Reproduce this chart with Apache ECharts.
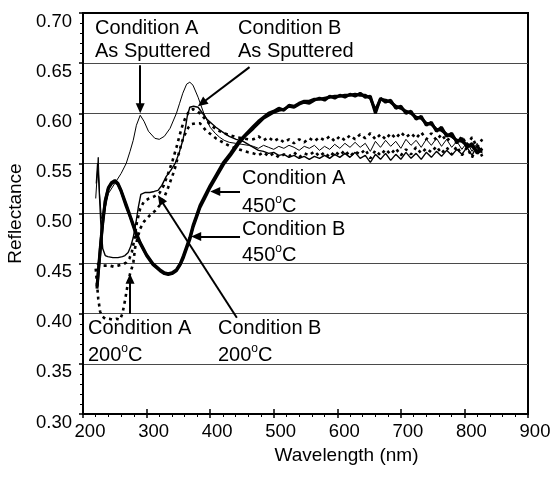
<!DOCTYPE html>
<html><head><meta charset="utf-8">
<script src="https://cdn.jsdelivr.net/npm/echarts@6/dist/echarts.min.js"></script>
<style>html,body{margin:0;padding:0;background:#fff}#c{width:556px;height:477px}</style>
</head><body><div id="c"></div>
<script>
// ---------- DATA ----------
const xTicks = [200, 300, 400, 500, 600, 700, 800, 900];
const yTicks = [0.30, 0.35, 0.40, 0.45, 0.50, 0.55, 0.60, 0.65, 0.70];

// shared wavelength grid for the noisy long-wavelength part (nm)
const flatWl = [468,476,484,492,500,508,516,524,532,540,548,556,564,572,580,588,596,604,612,620,628,636,644,652,660,668,676,684,692,700,708,716,724,732,740,748,756,764,772,780,788,796,804,812,820,828];

// Condition B 450 C (thick)
const b450HeadWl = [222,224,226,228,231,235,240,245,250,255,260,268,274,283,290,300,310,321,328,334,340,347,353,358,363,368,373,378,384,392,400,410,421,432,444,456];
const b450HeadR  = [0.425,0.44,0.455,0.47,0.49,0.512,0.525,0.53,0.532,0.529,0.522,0.507,0.497,0.48,0.47,0.458,0.449,0.443,0.44,0.439,0.44,0.443,0.449,0.456,0.465,0.474,0.486,0.495,0.506,0.516,0.526,0.537,0.549,0.558,0.569,0.578];
const b450FlatR  = [0.585,0.59,0.595,0.598,0.601,0.603,0.604,0.607,0.606,0.609,0.611,0.61,0.613,0.615,0.613,0.617,0.615,0.618,0.616,0.619,0.617,0.62,0.616,0.617,0.6,0.615,0.611,0.613,0.605,0.607,0.6,0.602,0.594,0.597,0.588,0.591,0.582,0.586,0.577,0.58,0.571,0.575,0.566,0.57,0.56,0.565];

// Condition A 450 C (thick, overlapping)
const a450HeadWl = [222,224,226,228,231,235,240,245,250,255,260,268,274,283,290,300,310,321,328,334,340,347,353,358,363,368,373,378,384,392,400,410,421,432,444,456];
const a450HeadR  = [0.427,0.442,0.457,0.472,0.492,0.513,0.526,0.531,0.533,0.53,0.523,0.509,0.498,0.482,0.471,0.459,0.45,0.444,0.441,0.44,0.441,0.444,0.45,0.458,0.467,0.476,0.488,0.497,0.508,0.518,0.528,0.539,0.551,0.56,0.571,0.579];
const a450FlatR  = [0.587,0.592,0.596,0.6,0.602,0.605,0.603,0.608,0.607,0.61,0.612,0.612,0.614,0.614,0.615,0.616,0.617,0.617,0.618,0.618,0.619,0.618,0.618,0.615,0.603,0.614,0.613,0.611,0.607,0.605,0.602,0.6,0.596,0.595,0.59,0.589,0.584,0.583,0.579,0.577,0.573,0.572,0.568,0.567,0.562,0.562];

// Condition A As Sputtered (thin)
const aSputHeadWl = [220,222,224,226,229,233,240,250,260,268,274,279,284,290,296,303,313,320,328,337,347,352,357,363,368,373,381,390,400,408,415,422,430,440,450,460];
const aSputHeadR  = [0.515,0.535,0.556,0.52,0.495,0.5,0.52,0.53,0.54,0.55,0.562,0.573,0.588,0.598,0.592,0.582,0.575,0.574,0.577,0.585,0.60,0.61,0.62,0.629,0.631,0.628,0.616,0.60,0.586,0.58,0.576,0.573,0.571,0.57,0.569,0.568];
const aSputFlatR  = [0.567,0.565,0.568,0.566,0.564,0.567,0.565,0.568,0.566,0.563,0.567,0.565,0.568,0.563,0.567,0.564,0.569,0.565,0.57,0.566,0.571,0.566,0.57,0.562,0.572,0.566,0.573,0.567,0.572,0.565,0.574,0.568,0.573,0.566,0.574,0.568,0.575,0.567,0.574,0.566,0.572,0.564,0.571,0.562,0.57,0.56];

// Condition B As Sputtered (solid)
const bSputHeadWl = [221,223,225,228,231,235,239,247,255,262,266,271,275,279,283,287,291,298,305,312,318,324,331,338,345,351,357,361,364,368,374,381,388,395,402,409,418,430,441,452,460];
const bSputHeadR  = [0.53,0.55,0.53,0.49,0.465,0.458,0.457,0.456,0.456,0.457,0.458,0.461,0.467,0.476,0.49,0.506,0.519,0.521,0.521,0.522,0.523,0.528,0.537,0.543,0.55,0.56,0.573,0.585,0.597,0.606,0.607,0.606,0.6,0.594,0.59,0.586,0.582,0.577,0.574,0.572,0.569];
const bSputFlatR  = [0.566,0.563,0.562,0.56,0.561,0.558,0.559,0.556,0.558,0.555,0.557,0.554,0.557,0.555,0.558,0.555,0.559,0.556,0.56,0.556,0.561,0.555,0.558,0.551,0.559,0.554,0.56,0.553,0.559,0.554,0.561,0.555,0.56,0.554,0.561,0.556,0.562,0.557,0.563,0.558,0.564,0.559,0.566,0.558,0.568,0.562];

// Condition A 200 C (dotted)
const a200HeadWl = [220,222,224,227,231,235,241,247,253,258,262,266,270,274,279,282,286,290,296,305,314,323,329,334,338,342,346,349,352,355,358,362,366,370,377,384,393,401,409,420,431,440,450,460];
const a200HeadR  = [0.445,0.43,0.415,0.402,0.397,0.395,0.395,0.394,0.395,0.394,0.4,0.413,0.428,0.44,0.45,0.466,0.476,0.485,0.492,0.498,0.503,0.51,0.518,0.526,0.533,0.54,0.548,0.556,0.563,0.57,0.576,0.581,0.586,0.589,0.59,0.59,0.583,0.579,0.575,0.571,0.567,0.565,0.563,0.561];
const a200FlatR  = [0.56,0.558,0.561,0.557,0.56,0.556,0.559,0.557,0.561,0.556,0.56,0.558,0.562,0.557,0.561,0.556,0.562,0.558,0.563,0.557,0.562,0.559,0.564,0.555,0.563,0.558,0.564,0.559,0.565,0.558,0.564,0.559,0.566,0.56,0.565,0.561,0.567,0.56,0.566,0.559,0.567,0.558,0.566,0.556,0.567,0.557];

// Condition B 200 C (dotted)
const b200HeadWl = [222,226,231,236,242,248,255,262,268,273,277,281,285,290,296,304,312,320,327,334,341,347,352,357,362,367,373,380,387,395,403,412,422,432,442,452,460];
const b200HeadR  = [0.45,0.449,0.448,0.448,0.448,0.447,0.448,0.449,0.451,0.455,0.462,0.475,0.492,0.505,0.512,0.515,0.517,0.52,0.528,0.54,0.553,0.566,0.578,0.589,0.597,0.602,0.604,0.602,0.598,0.592,0.587,0.583,0.58,0.578,0.576,0.575,0.574];
const b200FlatR  = [0.574,0.577,0.573,0.576,0.572,0.575,0.571,0.574,0.57,0.574,0.571,0.575,0.572,0.576,0.573,0.577,0.572,0.577,0.573,0.578,0.574,0.579,0.575,0.58,0.574,0.579,0.574,0.58,0.575,0.581,0.576,0.58,0.575,0.581,0.574,0.58,0.573,0.579,0.572,0.578,0.57,0.577,0.568,0.576,0.566,0.574];

// annotation arrows in data space: [fromWl, fromR, toWl, toR]
const arrowA_sput = [290, 0.648, 290, 0.605];
const arrowB_sput = [462, 0.646, 387, 0.610];
const arrowA_450  = [447, 0.522, 408, 0.522];
const arrowB_450  = [447, 0.477, 378, 0.477];
const arrowA_200  = [274, 0.400, 274, 0.435];
const arrowB_200  = [442, 0.396, 322, 0.514];

// ---------- CHART ----------
const FONT = '"Liberation Sans", Arial, Helvetica, sans-serif';
function zip(xs, ys) { return xs.map((x, i) => [x, ys[i]]); }
function build(hw, hr, fr) { return zip(hw.concat(flatWl), hr.concat(fr)); }

const chart = echarts.init(document.getElementById('c'), null, { renderer: 'canvas' });

const thick = { color: '#000', width: 3 };
const thin = { color: '#000', width: 1 };
const med = { color: '#000', width: 1.4 };
const dotted = { color: '#000', width: 2.6, type: [3, 4] };

function lineSeries(name, data, ls, z) {
  return { name, type: 'line', data, showSymbol: false, symbol: 'none', lineStyle: ls, z: z, animation: false, silent: true };
}

const arrows = [arrowA_sput, arrowB_sput, arrowA_450, arrowB_450, arrowA_200, arrowB_200];

const sA = lineSeries('Condition A As Sputtered', build(aSputHeadWl, aSputHeadR, aSputFlatR), thin, 6);
sA.markLine = {
  silent: true, animation: false,
  symbol: ['none', 'triangle'], symbolSize: [9, 10],
  lineStyle: { color: '#000', width: 2, type: 'solid' },
  label: { show: false },
  emphasis: { disabled: true },
  data: arrows.map(a => [{ coord: [a[0], a[1]] }, { coord: [a[2], a[3]] }])
};

const series = [
  lineSeries('Condition B 450C', build(b450HeadWl, b450HeadR, b450FlatR), thick, 3),
  lineSeries('Condition A 450C', build(a450HeadWl, a450HeadR, a450FlatR), thick, 3),
  lineSeries('Condition A 200C', build(a200HeadWl, a200HeadR, a200FlatR), dotted, 4),
  lineSeries('Condition B 200C', build(b200HeadWl, b200HeadR, b200FlatR), dotted, 4),
  lineSeries('Condition B As Sputtered', build(bSputHeadWl, bSputHeadR, bSputFlatR), med, 5),
  sA
];

const gridRect = { left: 83, right: 28, top: 13, bottom: 63 };
const labelText = { color: '#000', fontSize: 18.5, fontFamily: FONT };

const splitColors = yTicks.map((v, i) => i === yTicks.length - 1 ? '#000' : '#4a4a4a');

const option = {
  animation: false,
  backgroundColor: '#fff',
  grid: [
    Object.assign({ show: true, borderColor: '#000', borderWidth: 2, backgroundColor: 'transparent', containLabel: false, outerBoundsMode: 'none' }, gridRect),
    Object.assign({ show: false, containLabel: false, outerBoundsMode: 'none' }, gridRect)
  ],
  xAxis: [{
    type: 'value', gridIndex: 0, min: xTicks[0], max: xTicks[xTicks.length - 1], interval: 100,
    axisLine: { show: true, onZero: false, lineStyle: { color: '#000', width: 2 } },
    axisTick: { show: true, inside: false, length: 4, lineStyle: { color: '#000', width: 1.5 } },
    minorTick: { show: true, splitNumber: 5, length: 3, lineStyle: { color: '#000', width: 1 } },
    axisLabel: Object.assign({ margin: 8, padding: [0, 0, 0, 14] }, labelText),
    splitLine: { show: false },
    name: 'Wavelength (nm)', nameLocation: 'middle', nameGap: 28,
    nameTextStyle: { color: '#000', fontSize: 19, fontFamily: FONT, padding: [0, 0, 0, 82] }
  }, {
    type: 'value', gridIndex: 1, min: xTicks[0], max: xTicks[xTicks.length - 1], interval: 100,
    axisLine: { show: false },
    axisTick: { show: true, inside: true, length: 5, lineStyle: { color: '#000', width: 1.5 } },
    axisLabel: { show: false }, splitLine: { show: false }
  }],
  yAxis: [{
    type: 'value', gridIndex: 0, min: yTicks[0], max: yTicks[yTicks.length - 1], interval: 0.05,
    axisLine: { show: true, onZero: false, lineStyle: { color: '#000', width: 2 } },
    axisTick: { show: true, inside: false, length: 4, lineStyle: { color: '#000', width: 1.5 } },
    minorTick: { show: true, splitNumber: 5, length: 3, lineStyle: { color: '#000', width: 1 } },
    axisLabel: Object.assign({ margin: 11, lineHeight: 17, formatter: v => '\n' + v.toFixed(2) }, labelText),
    splitLine: { show: true, lineStyle: { color: splitColors, width: 1 } },
    name: 'Reflectance', nameLocation: 'middle', nameGap: 56,
    nameTextStyle: { color: '#000', fontSize: 19, fontFamily: FONT }
  }, {
    type: 'value', gridIndex: 1, show: false, min: 0.3, max: 0.7
  }],
  series: series
};
chart.setOption(option);

// ---------- ANNOTATION TEXT ----------
const NOTE_FONT = 20;
const notes = [
  { x: 95,  cap: 22,  l1: 'Condition A', l2: 'As Sputtered', gap: 23 },
  { x: 238, cap: 22,  l1: 'Condition B', l2: 'As Sputtered', gap: 23 },
  { x: 242, cap: 172, l1: 'Condition A', l2: ['450', 'o', 'C'], gap: 26 },
  { x: 242, cap: 223, l1: 'Condition B', l2: ['450', 'o', 'C'], gap: 24 },
  { x: 88,  cap: 322, l1: 'Condition A', l2: ['200', 'o', 'C'], gap: 25 },
  { x: 218, cap: 322, l1: 'Condition B', l2: ['200', 'o', 'C'], gap: 25 }
];
const CAP_OFF = 4;
const gElems = [];
notes.forEach(n => {
  gElems.push({
    type: 'text', x: n.x, y: n.cap - CAP_OFF, silent: true, z: 100,
    style: { text: n.l1, fill: '#000', font: NOTE_FONT + 'px ' + FONT, textAlign: 'left', textVerticalAlign: 'top', align: 'left', verticalAlign: 'top' }
  });
  if (typeof n.l2 === 'string') {
    gElems.push({
      type: 'text', x: n.x, y: n.cap + n.gap - CAP_OFF, silent: true, z: 100,
      style: { text: n.l2, fill: '#000', font: NOTE_FONT + 'px ' + FONT, textAlign: 'left', textVerticalAlign: 'top', align: 'left', verticalAlign: 'top' }
    });
  } else {
    gElems.push({
      type: 'text', x: n.x, y: n.cap + n.gap - CAP_OFF, silent: true, z: 100,
      style: {
        text: '{n|' + n.l2[0] + '}{s|' + n.l2[1] + '}{n|' + n.l2[2] + '}',
        fill: '#000', font: NOTE_FONT + 'px ' + FONT,
        textAlign: 'left', textVerticalAlign: 'top', align: 'left', verticalAlign: 'top',
        rich: {
          n: { fontSize: NOTE_FONT, fontFamily: FONT, fill: '#000', lineHeight: 22, verticalAlign: 'bottom' },
          s: { fontSize: 12, fontFamily: FONT, fill: '#000', lineHeight: 12, verticalAlign: 'top' }
        }
      }
    });
  }
});
chart.setOption({ graphic: { elements: gElems } });
</script></body></html>
